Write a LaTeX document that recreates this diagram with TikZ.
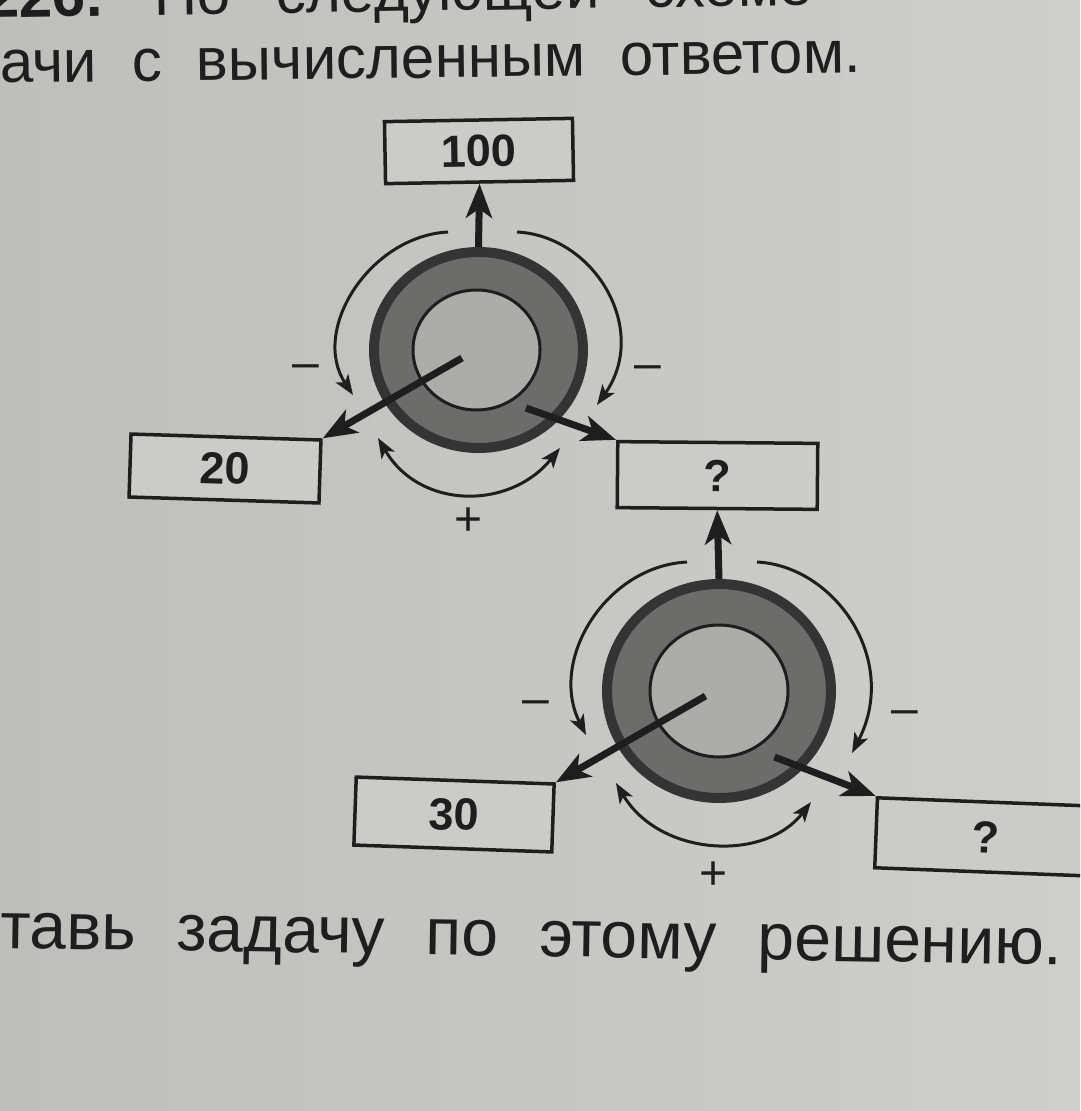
\documentclass[tikz,border=0pt]{standalone}
\usepackage{fontspec}
\setmainfont{Liberation Sans}
\usetikzlibrary{arrows.meta,shapes.geometric}
\definecolor{bgl}{RGB}{190,191,187}
\definecolor{bgr}{RGB}{206,207,203}
\definecolor{ink}{RGB}{30,30,30}
\definecolor{ringc}{RGB}{108,108,106}
\definecolor{ringb}{RGB}{52,52,52}
\definecolor{innerc}{RGB}{172,173,169}
\definecolor{boxc}{RGB}{203,204,200}
\begin{document}
\begin{tikzpicture}[x=1pt,y=-1pt,
  numbox/.style={draw=ink, line width=3.5pt, fill=boxc, inner sep=0pt,
    font=\fontsize{45}{45}\selectfont\bfseries, text=ink},
  outerring/.style={ellipse, draw=ringb, line width=10pt, fill=ringc, inner sep=0pt},
  innerring/.style={ellipse, draw=ink, line width=3pt, fill=innerc, inner sep=0pt},
  bigarrow/.style={draw=ink, line width=7pt, -{Stealth[length=34pt,width=26pt,inset=9pt]}},
  curvarrow/.style={draw=ink, line width=3pt, -{Stealth[length=20pt,width=15pt,inset=5pt]}},
  dblarrow/.style={draw=ink, line width=3pt, {Stealth[length=20pt,width=15pt,inset=5pt]}-{Stealth[length=20pt,width=15pt,inset=5pt]}},
  sign/.style={font=\fontsize{48}{48}\selectfont, text=ink, inner sep=0pt, anchor=base},
  bodytext/.style={anchor=base west, inner sep=0pt, text=ink}
]
\useasboundingbox (0,0) rectangle (1080,1111);
\clip (0,0) rectangle (1080,1111);
\shade[left color=bgl, right color=bgr] (0,0) rectangle (1080,1111);

% text lines
\node[bodytext, rotate=0.9, font=\fontsize{60}{60}\selectfont] (t1) at (-14,18)
  {\spaceskip=46pt {\bfseries 226.} По следующей схеме};
\node[bodytext, rotate=0.7, font=\fontsize{60}{60}\selectfont] (t2) at (0,83)
  {\spaceskip=35pt ачи с вычисленным ответом.};
\node[bodytext, rotate=-0.9, font=\fontsize{66}{66}\selectfont] (t3) at (0,948)
  {\spaceskip=41pt тавь задачу по этому решению.};

% boxes
\node[numbox, minimum width=188pt, minimum height=62pt, rotate=1] (b100) at (479,151) {100};
\node[numbox, minimum width=190pt, minimum height=63pt, rotate=-1.8] (b20) at (225,468.5) {20};
\node[numbox, minimum width=200pt, minimum height=66pt, rotate=-0.5] (bq1) at (717.5,475.5) {?};
\node[numbox, minimum width=198pt, minimum height=68pt, rotate=-2] (b30) at (454,814.5) {30};
\node[numbox, minimum width=220pt, minimum height=70pt, rotate=-2.2] (bq2) at (986,837) {?};

% upper wheel
\node[outerring, minimum width=209pt, minimum height=196pt] (c1) at (478.5,350) {};
\node[innerring, minimum width=127pt, minimum height=120pt] (c1i) at (476.5,350) {};
\coordinate (h1) at (462,358);
\coordinate (h2) at (526,408);
\draw[bigarrow] (c1.north) -- (b100.south);
\draw[bigarrow] (h1) -- (b20.north east);
\draw[bigarrow] (h2) -- (bq1.north west);
\coordinate (l1s) at (448,232);
\coordinate (l1e) at (353,395);
\coordinate (r1s) at (517,232);
\coordinate (r1e) at (597,405);
\coordinate (p1a) at (378,438);
\coordinate (p1b) at (560,448);
\draw[curvarrow] (l1s) .. controls (370,236) and (310,330) .. (l1e);
\draw[curvarrow] (r1s) .. controls (595,236) and (650,330) .. (r1e);
\draw[dblarrow] (p1a) .. controls (420,510) and (510,510) .. (p1b);
\node[sign] (m1l) at (306,378) {–};
\node[sign] (m1r) at (648,379) {–};
\node[sign] (p1) at (469,535) {+};

% lower wheel
\node[outerring, minimum width=224pt, minimum height=214pt] (c2) at (719,691) {};
\node[innerring, minimum width=138pt, minimum height=132pt] (c2i) at (719,691) {};
\coordinate (h3) at (705.5,696);
\coordinate (h4) at (774.5,757);
\draw[bigarrow] (c2.north) -- (bq1.south);
\draw[bigarrow] (h3) -- (b30.north east);
\draw[bigarrow] (h4) -- (bq2.north west);
\coordinate (l2s) at (687,562);
\coordinate (l2e) at (586,735);
\coordinate (r2s) at (757,562);
\coordinate (r2e) at (852,753);
\coordinate (p2a) at (616,783);
\coordinate (p2b) at (811,802);
\draw[curvarrow] (l2s) .. controls (606,566) and (548,660) .. (l2e);
\draw[curvarrow] (r2s) .. controls (835,566) and (900,660) .. (r2e);
\draw[dblarrow] (p2a) .. controls (660,857) and (765,862) .. (p2b);
\node[sign] (m2l) at (536,714) {–};
\node[sign] (m2r) at (905,724) {–};
\node[sign] (p2) at (714,889) {+};
\end{tikzpicture}
\end{document}
